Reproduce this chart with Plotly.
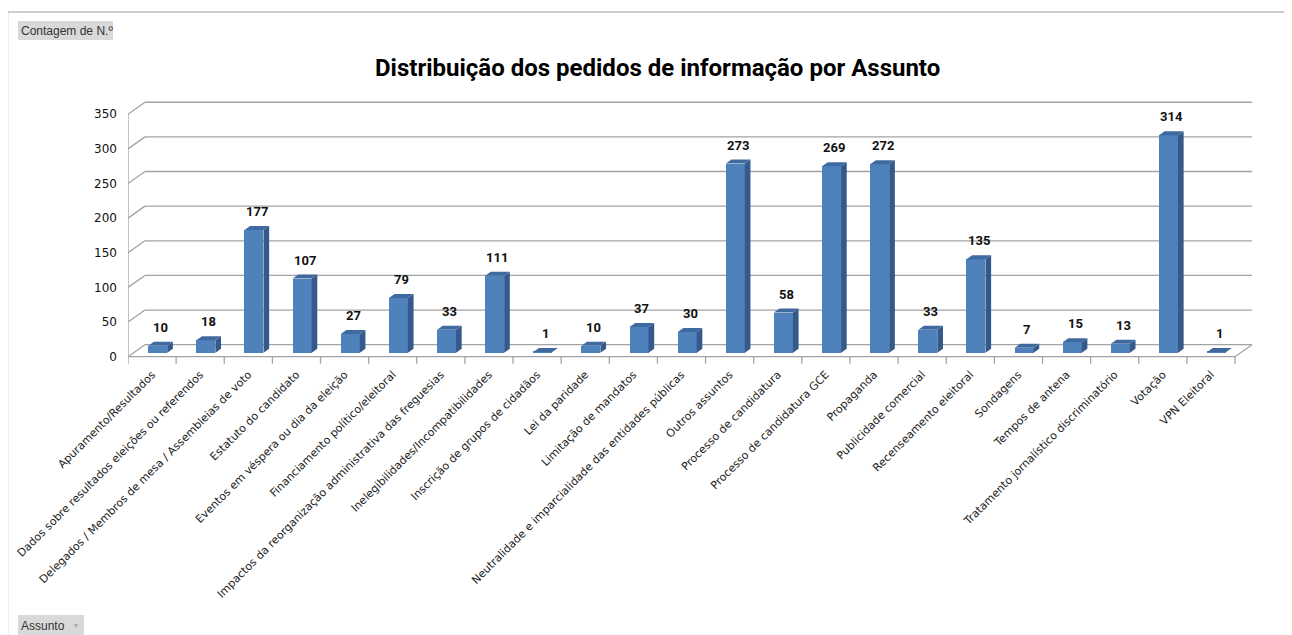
import plotly.graph_objects as go

categories = [
    "Apuramento/Resultados",
    "Dados sobre resultados eleições ou referendos",
    "Delegados / Membros de mesa / Assembleias de voto",
    "Estatuto do candidato",
    "Eventos em véspera ou dia da eleição",
    "Financiamento político/eleitoral",
    "Impactos da reorganização administrativa das freguesias",
    "Inelegibilidades/Incompatibilidades",
    "Inscrição de grupos de cidadãos",
    "Lei da paridade",
    "Limitação de mandatos",
    "Neutralidade e imparcialidade das entidades públicas",
    "Outros assuntos",
    "Processo de candidatura",
    "Processo de candidatura GCE",
    "Propaganda",
    "Publicidade comercial",
    "Recenseamento eleitoral",
    "Sondagens",
    "Tempos de antena",
    "Tratamento jornalístico discriminatório",
    "Votação",
    "VPN Eleitoral",
]
values = [10, 18, 177, 107, 27, 79, 33, 111, 1, 10, 37, 30, 273, 58, 269, 272, 33, 135, 7, 15, 13, 314, 1]
y_ticks = [0, 50, 100, 150, 200, 250, 300, 350]

OFF = 8  # page body margin
W, H = 1292 - OFF, 635 - OFF
ML, MR, MT, MB = 128 - OFF, 40, 99 - OFF, 270
YR = [-12, 372]
N = len(categories)
PXC = (W - ML - MR) / (N + 0.3527)
D = 17 / PXC            # depth in x units
PXY = (H - MT - MB) / (YR[1] - YR[0])
DY = 12 / PXY           # depth in y units
BW = 19 / PXC           # bar width

GRID = "#a3a3a3"
FRONT = "#4f81bd"
SIDE = "#35598a"
TOP = "#3f6aa0"

fig = go.Figure()
shapes = []

def seg(x0, y0, x1, y1, color=GRID, width=1.3):
    shapes.append(dict(type="line", xref="x", yref="y", x0=x0, y0=y0, x1=x1, y1=y1,
                       layer="below", line=dict(color=color, width=width)))

# back wall gridlines, left diagonals, y ticks
for v in y_ticks:
    seg(-0.5 + D, v + DY, N - 0.5 + D, v + DY)
    seg(-0.5, v, -0.5 + D, v + DY)
    seg(-0.5 - 4 / PXC, v, -0.5, v)
# floor
seg(-0.5, 0, N - 0.5, 0)
seg(N - 0.5, 0, N - 0.5 + D, DY)
# front y axis
seg(-0.5, 0, -0.5, y_ticks[-1])
# category boundary ticks
for i in range(N + 1):
    seg(i - 0.5, 0, i - 0.5, -7 / PXY)

# bars: front faces
fig.add_trace(go.Bar(x=list(range(N)), y=values, base=DY / 3, width=BW, offset=D / 3 - BW / 2,
                     marker=dict(color=FRONT, line=dict(width=0)), hoverinfo="skip", showlegend=False))

# side and top faces, value labels
for i, v in enumerate(values):
    x0 = i - BW / 2 + D / 3
    x1 = i + BW / 2 + D / 3
    b = DY / 3
    t = v + DY / 3
    fig.add_trace(go.Scatter(x=[x1, x1 + D / 3, x1 + D / 3, x1, x1], y=[b, b + DY / 3, t + DY / 3, t, b],
                             fill="toself", fillcolor=SIDE, mode="lines", line=dict(width=0, color=SIDE),
                             hoverinfo="skip", showlegend=False))
    fig.add_trace(go.Scatter(x=[x0, x1, x1 + D / 3, x0 + D / 3, x0], y=[t, t, t + DY / 3, t + DY / 3, t],
                             fill="toself", fillcolor=TOP, mode="lines", line=dict(width=0, color=TOP),
                             hoverinfo="skip", showlegend=False))
    fig.add_annotation(x=i + D / 2, y=t + DY / 3, text=f"<b>{v}</b>", showarrow=False,
                       yanchor="bottom", yshift=5,
                       font=dict(family="Roboto", size=13, color="#111"))

fig.update_xaxes(range=[-0.5, N - 0.5 + D], tickvals=list(range(N)), ticktext=categories,
                 tickangle=-45, showgrid=False, zeroline=False, showline=False, ticks="",
                 automargin=False,
                 tickfont=dict(family="DejaVu Sans", size=11, color="#222"))
fig.update_yaxes(range=YR, tickvals=y_ticks, showgrid=False, zeroline=False, showline=False,
                 ticks="", ticklabelstandoff=10, automargin=False,
                 tickfont=dict(family="DejaVu Sans", size=12, color="#111"))

def px(x):
    return (x - OFF - ML) / (W - ML - MR)

def py(y):
    return 1 - (y - OFF - MT) / (H - MT - MB)

shapes += [
    dict(type="line", xref="paper", yref="paper", x0=px(7.5), x1=px(1300), y0=py(12), y1=py(12),
         line=dict(color="#bdbdbd", width=1.5)),
    dict(type="line", xref="paper", yref="paper", x0=px(7.5), x1=px(7.5), y0=py(12), y1=py(640),
         line=dict(color="#bdbdbd", width=1.5)),
    dict(type="rect", xref="paper", yref="paper", x0=px(18), x1=px(113), y0=py(21), y1=py(40),
         fillcolor="#d9d9d9", line=dict(width=0)),
    dict(type="rect", xref="paper", yref="paper", x0=px(18), x1=px(84), y0=py(615), y1=py(640),
         fillcolor="#d9d9d9", line=dict(width=0)),
]
fig.update_layout(shapes=shapes)
fig.add_annotation(xref="paper", yref="paper", x=px(19), y=py(31), text="Contagem de N.º",
                   showarrow=False, xanchor="left", yanchor="middle",
                   font=dict(family="Liberation Sans", size=12, color="#333"))
fig.add_annotation(xref="paper", yref="paper", x=px(19), y=py(626), text="Assunto",
                   showarrow=False, xanchor="left", yanchor="middle",
                   font=dict(family="Liberation Sans", size=12, color="#333"))
fig.add_annotation(xref="paper", yref="paper", x=px(76), y=py(625), text="▾",
                   showarrow=False, xanchor="center", yanchor="middle",
                   font=dict(family="DejaVu Sans", size=8, color="#aaa"))
fig.add_annotation(xref="paper", yref="paper", x=px(657), y=py(68),
                   text="<b>Distribuição dos pedidos de informação por Assunto</b>",
                   showarrow=False, xanchor="center", yanchor="middle",
                   font=dict(family="Roboto", size=24, color="#000"))

fig.update_layout(width=W, height=H, margin=dict(l=ML, r=MR, t=MT, b=MB, autoexpand=False),
                  plot_bgcolor="white", paper_bgcolor="white", bargap=0)

fig.write_html("out.html")
